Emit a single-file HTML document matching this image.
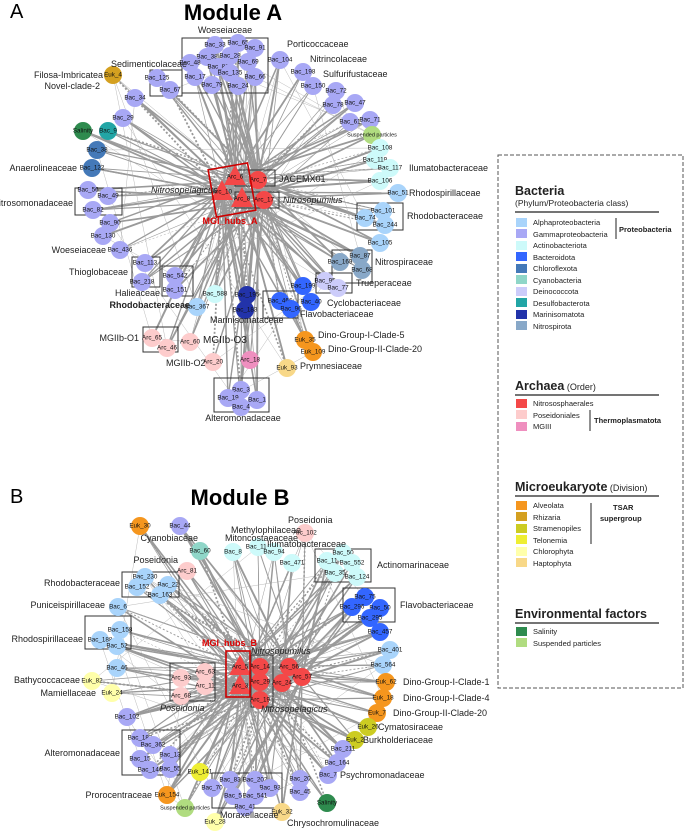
<!DOCTYPE html>
<html><head><meta charset="utf-8"><style>
body{margin:0;background:#fff;width:685px;height:831px;overflow:hidden}
svg{font-family:"Liberation Sans",sans-serif}
.n text{font-size:6.3px;text-anchor:middle;dominant-baseline:middle;fill:#111}
.l{font-size:9px;fill:#222}
.r{text-anchor:end}
.bx{fill:none;stroke:#333;stroke-width:1}
.a{fill:#a9d4fb}.g{fill:#a8a8f5}.ac{fill:#cdfafa}.bd{fill:#3366ff}.cf{fill:#4479b8}.cy{fill:#8fd6c8}.de{fill:#ccccfa}.ds{fill:#22a5a5}.ma{fill:#2233aa}.ni{fill:#88a8c8}.ns{fill:#f44848}.po{fill:#fdcccc}.m3{fill:#ef8fbf}.al{fill:#f5961e}.rh{fill:#d4a020}.st{fill:#cccc22}.te{fill:#eeee33}.ch{fill:#ffffaa}.ha{fill:#f8d888}.sa{fill:#2e8b4e}.sp{fill:#b0dc80}
.lg text{font-size:7.5px;fill:#222}
.lg text.hd{font-size:12.5px;font-weight:bold}
.lg text.sub{font-size:8.5px;font-weight:normal}
.lg tspan.sm{font-size:9px;font-weight:normal}
</style></head><body>
<svg id="s" width="685" height="831" viewBox="0 0 685 831">
<text x="10" y="18" font-size="20">A</text>
<text x="233" y="20" font-size="22" font-weight="bold" text-anchor="middle">Module A</text>
<text x="10" y="503" font-size="20">B</text>
<text x="240" y="505" font-size="22" font-weight="bold" text-anchor="middle">Module B</text>
<g id="eA"></g><g id="eB"></g>
<rect class="bx" x="182" y="38" width="86" height="55" stroke="#777"/>
<rect class="bx" x="150" y="70" width="32" height="26"/>
<rect class="bx" x="75" y="188" width="47" height="27"/>
<rect class="bx" x="132" y="257" width="28" height="30"/>
<rect class="bx" x="162" y="266" width="31" height="30"/>
<rect class="bx" x="357" y="203" width="46" height="27"/>
<rect class="bx" x="332" y="250" width="40" height="33"/>
<rect class="bx" x="316" y="273" width="36" height="20"/>
<rect class="bx" x="263" y="291" width="35" height="27"/>
<rect class="bx" x="143" y="327" width="35" height="25"/>
<rect class="bx" x="214" y="378" width="55" height="34"/>
<rect class="bx" x="235" y="170" width="40" height="16" stroke="#555"/>
<rect class="bx" x="235" y="192" width="44" height="16" stroke="#555"/>
<g id="A">
<g class="n" transform="translate(215,45)"><circle r="9" class="g"/><text>Bac_33</text></g>
<g class="n" transform="translate(238,43)"><circle r="9" class="g"/><text>Bac_65</text></g>
<g class="n" transform="translate(255,48)"><circle r="9" class="g"/><text>Bac_91</text></g>
<g class="n" transform="translate(207,57)"><circle r="9" class="g"/><text>Bac_38</text></g>
<g class="n" transform="translate(230,56)"><circle r="9" class="g"/><text>Bac_28</text></g>
<g class="n" transform="translate(248,62)"><circle r="9" class="g"/><text>Bac_69</text></g>
<g class="n" transform="translate(190,63)"><circle r="9" class="g"/><text>Bac_48</text></g>
<g class="n" transform="translate(218,67)"><circle r="9" class="g"/><text>Bac_81</text></g>
<g class="n" transform="translate(230,73)"><circle r="9" class="g"/><text>Bac_135</text></g>
<g class="n" transform="translate(255,77)"><circle r="9" class="g"/><text>Bac_66</text></g>
<g class="n" transform="translate(195,77)"><circle r="9" class="g"/><text>Bac_17</text></g>
<g class="n" transform="translate(212,85)"><circle r="9" class="g"/><text>Bac_79</text></g>
<g class="n" transform="translate(238,86)"><circle r="9" class="g"/><text>Bac_24</text></g>
<g class="n" transform="translate(113,75)"><circle r="9" class="rh"/><text>Euk_4</text></g>
<g class="n" transform="translate(157,78)"><circle r="9" class="g"/><text>Bac_125</text></g>
<g class="n" transform="translate(170,90)"><circle r="9" class="g"/><text>Bac_67</text></g>
<g class="n" transform="translate(135,98)"><circle r="9" class="g"/><text>Bac_34</text></g>
<g class="n" transform="translate(123,118)"><circle r="9" class="g"/><text>Bac_29</text></g>
<g class="n" transform="translate(83,131)"><circle r="9" class="sa"/><text>Salinity</text></g>
<g class="n" transform="translate(108,131)"><circle r="9" class="ds"/><text>Bac_9</text></g>
<g class="n" transform="translate(97,150)"><circle r="9" class="cf"/><text>Bac_38</text></g>
<g class="n" transform="translate(92,168)"><circle r="9" class="cf"/><text>Bac_122</text></g>
<g class="n" transform="translate(88,190)"><circle r="9" class="g"/><text>Bac_56</text></g>
<g class="n" transform="translate(108,196)"><circle r="9" class="g"/><text>Bac_49</text></g>
<g class="n" transform="translate(93,210)"><circle r="9" class="g"/><text>Bac_82</text></g>
<g class="n" transform="translate(110,223)"><circle r="9" class="g"/><text>Bac_90</text></g>
<g class="n" transform="translate(103,236)"><circle r="9" class="g"/><text>Bac_130</text></g>
<g class="n" transform="translate(120,250)"><circle r="9" class="g"/><text>Bac_436</text></g>
<g class="n" transform="translate(145,263)"><circle r="9" class="g"/><text>Bac_113</text></g>
<g class="n" transform="translate(142,282)"><circle r="9" class="g"/><text>Bac_218</text></g>
<g class="n" transform="translate(175,276)"><circle r="9" class="g"/><text>Bac_542</text></g>
<g class="n" transform="translate(175,290)"><circle r="9" class="g"/><text>Bac_151</text></g>
<g class="n" transform="translate(280,60)"><circle r="9" class="g"/><text>Bac_104</text></g>
<g class="n" transform="translate(303,72)"><circle r="9" class="g"/><text>Bac_198</text></g>
<g class="n" transform="translate(313,86)"><circle r="9" class="g"/><text>Bac_150</text></g>
<g class="n" transform="translate(336,91)"><circle r="9" class="g"/><text>Bac_72</text></g>
<g class="n" transform="translate(333,105)"><circle r="9" class="g"/><text>Bac_78</text></g>
<g class="n" transform="translate(355,103)"><circle r="9" class="g"/><text>Bac_47</text></g>
<g class="n" transform="translate(350,122)"><circle r="9" class="g"/><text>Bac_61</text></g>
<g class="n" transform="translate(370,120)"><circle r="9" class="g"/><text>Bac_71</text></g>
<g class="n" transform="translate(372,135)"><circle r="9" class="sp"/><text style="font-size:5.5px">Suspended particles</text></g>
<g class="n" transform="translate(380,148)"><circle r="9" class="ac"/><text>Bac_108</text></g>
<g class="n" transform="translate(375,160)"><circle r="9" class="ac"/><text>Bac_119</text></g>
<g class="n" transform="translate(390,168)"><circle r="9" class="ac"/><text>Bac_117</text></g>
<g class="n" transform="translate(380,181)"><circle r="9" class="ac"/><text>Bac_106</text></g>
<g class="n" transform="translate(398,193)"><circle r="9" class="a"/><text>Bac_51</text></g>
<g class="n" transform="translate(383,211)"><circle r="9" class="a"/><text>Bac_101</text></g>
<g class="n" transform="translate(365,218)"><circle r="9" class="a"/><text>Bac_74</text></g>
<g class="n" transform="translate(385,225)"><circle r="9" class="a"/><text>Bac_244</text></g>
<g class="n" transform="translate(380,243)"><circle r="9" class="a"/><text>Bac_105</text></g>
<g class="n" transform="translate(360,256)"><circle r="9" class="ni"/><text>Bac_87</text></g>
<g class="n" transform="translate(340,262)"><circle r="9" class="ni"/><text>Bac_169</text></g>
<g class="n" transform="translate(362,270)"><circle r="9" class="ni"/><text>Bac_68</text></g>
<g class="n" transform="translate(325,281)"><circle r="9" class="de"/><text>Bac_95</text></g>
<g class="n" transform="translate(338,288)"><circle r="9" class="de"/><text>Bac_77</text></g>
<g class="n" transform="translate(303,286)"><circle r="9" class="bd"/><text>Bac_199</text></g>
<g class="n" transform="translate(311,302)"><circle r="9" class="bd"/><text>Bac_40</text></g>
<g class="n" transform="translate(280,301)"><circle r="9" class="bd"/><text>Bac_466</text></g>
<g class="n" transform="translate(291,309)"><circle r="9" class="bd"/><text>Bac_96</text></g>
<g class="n" transform="translate(247,295)"><circle r="9" class="ma"/><text>Bac_195</text></g>
<g class="n" transform="translate(245,310)"><circle r="9" class="ma"/><text>Bac_183</text></g>
<g class="n" transform="translate(215,294)"><circle r="9" class="ac"/><text>Bac_588</text></g>
<g class="n" transform="translate(197,307)"><circle r="9" class="a"/><text>Bac_367</text></g>
<g class="n" transform="translate(152,338)"><circle r="9" class="po"/><text>Arc_65</text></g>
<g class="n" transform="translate(167,348)"><circle r="9" class="po"/><text>Arc_46</text></g>
<g class="n" transform="translate(190,342)"><circle r="9" class="po"/><text>Arc_60</text></g>
<g class="n" transform="translate(213,362)"><circle r="9" class="po"/><text>Arc_20</text></g>
<g class="n" transform="translate(250,360)"><circle r="9" class="m3"/><text>Arc_18</text></g>
<g class="n" transform="translate(305,340)"><circle r="9" class="al"/><text>Euk_35</text></g>
<g class="n" transform="translate(313,352)"><circle r="9" class="al"/><text>Euk_109</text></g>
<g class="n" transform="translate(287,368)"><circle r="9" class="ha"/><text>Euk_93</text></g>
<g class="n" transform="translate(241,390)"><circle r="9" class="g"/><text>Bac_3</text></g>
<g class="n" transform="translate(228,398)"><circle r="9" class="g"/><text>Bac_19</text></g>
<g class="n" transform="translate(257,400)"><circle r="9" class="g"/><text>Bac_1</text></g>
<g class="n" transform="translate(241,407)"><circle r="9" class="g"/><text>Bac_4</text></g>
</g>
<g id="hA">
<g class="n h" transform="translate(258,180)"><circle r="9" class="ns"/><text>Arc_7</text></g>
<g class="n h" transform="translate(264,200)"><circle r="9" class="ns"/><text>Arc_17</text></g>
<g class="n h" transform="translate(235,177)"><polygon points="0,-12 11,8 -11,8" class="ns"/><text>Arc_6</text></g>
<g class="n h" transform="translate(222,192)"><polygon points="0,-12 11,8 -11,8" class="ns"/><text>Arc_10</text></g>
<g class="n h" transform="translate(242,199)"><polygon points="0,-12 11,8 -11,8" class="ns"/><text>Arc_8</text></g>
<rect x="212" y="166" width="40" height="48" fill="none" stroke="#c00" stroke-width="1.6" transform="rotate(-10 232 190)"/>
</g>
<g class="l">
<text x="225" y="33" text-anchor="middle">Woeseiaceae</text>
<text x="287" y="47">Porticoccaceae</text>
<text x="310" y="62">Nitrincolaceae</text>
<text x="323" y="77">Sulfurifustaceae</text>
<text x="111" y="67">Sedimenticolaceae</text>
<text class="r" x="103" y="78">Filosa-Imbricatea</text>
<text class="r" x="100" y="89">Novel-clade-2</text>
<text class="r" x="77" y="171">Anaerolineaceae</text>
<text class="r" x="73" y="206">Nitrosomonadaceae</text>
<text class="r" x="106" y="253">Woeseiaceae</text>
<text class="r" x="128" y="275">Thioglobaceae</text>
<text class="r" x="160" y="296">Halieaceae</text>
<text class="r" x="190" y="308" font-weight="bold">Rhodobacteraceae</text>
<text x="409" y="171">Ilumatobacteraceae</text>
<text x="409" y="196">Rhodospirillaceae</text>
<text x="407" y="219">Rhodobacteraceae</text>
<text x="375" y="265">Nitrospiraceae</text>
<text x="356" y="286">Trueperaceae</text>
<text x="327" y="306">Cyclobacteriaceae</text>
<text x="300" y="317">Flavobacteriaceae</text>
<text x="210" y="323">Marinisomataceae</text>
<text x="279" y="182">JACEMX01</text>
<text x="283" y="203" font-style="italic">Nitrosopumilus</text>
<text x="151" y="193" font-style="italic">Nitrosopelagicus</text>
<text x="230" y="224" text-anchor="middle" font-weight="bold" fill="#d00">MGI_hubs_A</text>
<text class="r" x="139" y="341">MGIIb-O1</text>
<text x="203" y="343" font-size="10">MGIIb-O3</text>
<text x="166" y="366">MGIIb-O2</text>
<text x="318" y="338">Dino-Group-I-Clade-5</text>
<text x="328" y="352">Dino-Group-II-Clade-20</text>
<text x="300" y="369">Prymnesiaceae</text>
<text x="243" y="421" text-anchor="middle">Alteromonadaceae</text>
</g>
<rect class="bx" x="315" y="549" width="56" height="33"/>
<rect class="bx" x="122" y="572" width="57" height="25"/>
<rect class="bx" x="85" y="616" width="46" height="33"/>
<rect class="bx" x="343" y="588" width="52" height="34"/>
<rect class="bx" x="170" y="663" width="45" height="38"/>
<rect class="bx" x="122" y="730" width="58" height="45"/>
<rect class="bx" x="212" y="773" width="70" height="35"/>
<rect class="bx" x="251" y="655" width="22" height="52" stroke="#555"/>
<g id="B">
<g class="n" transform="translate(140,526)"><circle r="9" class="al"/><text>Euk_30</text></g>
<g class="n" transform="translate(180,526)"><circle r="9" class="g"/><text>Bac_44</text></g>
<g class="n" transform="translate(305,533)"><circle r="9" class="po"/><text>Arc_102</text></g>
<g class="n" transform="translate(200,551)"><circle r="9" class="cy"/><text>Bac_60</text></g>
<g class="n" transform="translate(233,552)"><circle r="9" class="ac"/><text>Bac_8</text></g>
<g class="n" transform="translate(258,547)"><circle r="9" class="ac"/><text>Bac_114</text></g>
<g class="n" transform="translate(274,552)"><circle r="9" class="ac"/><text>Bac_94</text></g>
<g class="n" transform="translate(292,563)"><circle r="9" class="ac"/><text>Bac_471</text></g>
<g class="n" transform="translate(343,553)"><circle r="9" class="ac"/><text>Bac_50</text></g>
<g class="n" transform="translate(327,561)"><circle r="9" class="ac"/><text>Bac_11</text></g>
<g class="n" transform="translate(352,563)"><circle r="9" class="ac"/><text>Bac_552</text></g>
<g class="n" transform="translate(335,573)"><circle r="9" class="ac"/><text>Bac_35</text></g>
<g class="n" transform="translate(357,577)"><circle r="9" class="ac"/><text>Bac_124</text></g>
<g class="n" transform="translate(187,571)"><circle r="9" class="po"/><text>Arc_81</text></g>
<g class="n" transform="translate(145,577)"><circle r="9" class="a"/><text>Bac_230</text></g>
<g class="n" transform="translate(137,587)"><circle r="9" class="a"/><text>Bac_152</text></g>
<g class="n" transform="translate(168,585)"><circle r="9" class="a"/><text>Bac_22</text></g>
<g class="n" transform="translate(160,595)"><circle r="9" class="a"/><text>Bac_163</text></g>
<g class="n" transform="translate(118,607)"><circle r="9" class="a"/><text>Bac_6</text></g>
<g class="n" transform="translate(120,630)"><circle r="9" class="a"/><text>Bac_158</text></g>
<g class="n" transform="translate(100,640)"><circle r="9" class="a"/><text>Bac_188</text></g>
<g class="n" transform="translate(117,646)"><circle r="9" class="a"/><text>Bac_52</text></g>
<g class="n" transform="translate(117,668)"><circle r="9" class="a"/><text>Bac_46</text></g>
<g class="n" transform="translate(92,681)"><circle r="9" class="ch"/><text>Euk_82</text></g>
<g class="n" transform="translate(112,693)"><circle r="9" class="ch"/><text>Euk_24</text></g>
<g class="n" transform="translate(127,717)"><circle r="9" class="g"/><text>Bac_102</text></g>
<g class="n" transform="translate(365,597)"><circle r="9" class="bd"/><text>Bac_75</text></g>
<g class="n" transform="translate(352,607)"><circle r="9" class="bd"/><text>Bac_296</text></g>
<g class="n" transform="translate(380,608)"><circle r="9" class="bd"/><text>Bac_50</text></g>
<g class="n" transform="translate(370,618)"><circle r="9" class="bd"/><text>Bac_295</text></g>
<g class="n" transform="translate(380,632)"><circle r="9" class="bd"/><text>Bac_457</text></g>
<g class="n" transform="translate(390,650)"><circle r="9" class="a"/><text>Bac_401</text></g>
<g class="n" transform="translate(383,665)"><circle r="9" class="a"/><text>Bac_564</text></g>
<g class="n" transform="translate(386,682)"><circle r="9" class="al"/><text>Euk_62</text></g>
<g class="n" transform="translate(383,698)"><circle r="9" class="al"/><text>Euk_18</text></g>
<g class="n" transform="translate(377,713)"><circle r="9" class="al"/><text>Euk_7</text></g>
<g class="n" transform="translate(368,727)"><circle r="9" class="st"/><text>Euk_26</text></g>
<g class="n" transform="translate(355,740)"><circle r="9" class="st"/><text>Euk_2</text></g>
<g class="n" transform="translate(343,749)"><circle r="9" class="g"/><text>Bac_211</text></g>
<g class="n" transform="translate(337,763)"><circle r="9" class="g"/><text>Bac_164</text></g>
<g class="n" transform="translate(328,775)"><circle r="9" class="g"/><text>Bac_7</text></g>
<g class="n" transform="translate(300,779)"><circle r="9" class="g"/><text>Bac_20</text></g>
<g class="n" transform="translate(300,792)"><circle r="9" class="g"/><text>Bac_45</text></g>
<g class="n" transform="translate(327,803)"><circle r="9" class="sa"/><text>Salinity</text></g>
<g class="n" transform="translate(282,812)"><circle r="9" class="ha"/><text>Euk_32</text></g>
<g class="n" transform="translate(230,780)"><circle r="9" class="g"/><text>Bac_83</text></g>
<g class="n" transform="translate(255,780)"><circle r="9" class="g"/><text>Bac_202</text></g>
<g class="n" transform="translate(212,788)"><circle r="9" class="g"/><text>Bac_70</text></g>
<g class="n" transform="translate(270,788)"><circle r="9" class="g"/><text>Bac_93</text></g>
<g class="n" transform="translate(233,796)"><circle r="9" class="g"/><text>Bac_5</text></g>
<g class="n" transform="translate(255,796)"><circle r="9" class="g"/><text>Bac_541</text></g>
<g class="n" transform="translate(245,807)"><circle r="9" class="g"/><text>Bac_41</text></g>
<g class="n" transform="translate(215,822)"><circle r="9" class="ch"/><text>Euk_28</text></g>
<g class="n" transform="translate(185,808)"><circle r="9" class="sp"/><text style="font-size:5.5px">Suspended particles</text></g>
<g class="n" transform="translate(167,795)"><circle r="9" class="al"/><text>Euk_154</text></g>
<g class="n" transform="translate(200,772)"><circle r="9" class="te"/><text>Euk_141</text></g>
<g class="n" transform="translate(140,738)"><circle r="9" class="g"/><text>Bac_182</text></g>
<g class="n" transform="translate(153,745)"><circle r="9" class="g"/><text>Bac_362</text></g>
<g class="n" transform="translate(170,755)"><circle r="9" class="g"/><text>Bac_13</text></g>
<g class="n" transform="translate(140,759)"><circle r="9" class="g"/><text>Bac_15</text></g>
<g class="n" transform="translate(150,770)"><circle r="9" class="g"/><text>Bac_146</text></g>
<g class="n" transform="translate(170,769)"><circle r="9" class="g"/><text>Bac_55</text></g>
<g class="n" transform="translate(205,672)"><circle r="9" class="po"/><text>Arc_63</text></g>
<g class="n" transform="translate(181,678)"><circle r="9" class="po"/><text>Arc_93</text></g>
<g class="n" transform="translate(205,686)"><circle r="9" class="po"/><text>Arc_11</text></g>
<g class="n" transform="translate(181,696)"><circle r="9" class="po"/><text>Arc_68</text></g>
</g>
<g id="hB">
<g class="n h" transform="translate(260,667)"><circle r="9" class="ns"/><text>Arc_14</text></g>
<g class="n h" transform="translate(289,667)"><circle r="9" class="ns"/><text>Arc_56</text></g>
<g class="n h" transform="translate(302,677)"><circle r="9" class="ns"/><text>Arc_57</text></g>
<g class="n h" transform="translate(260,682)"><circle r="9" class="ns"/><text>Arc_29</text></g>
<g class="n h" transform="translate(282,683)"><circle r="9" class="ns"/><text>Arc_24</text></g>
<g class="n h" transform="translate(260,700)"><circle r="9" class="ns"/><text>Arc_19</text></g>
<g class="n h" transform="translate(240,667)"><polygon points="0,-12 11,8 -11,8" class="ns"/><text>Arc_5</text></g>
<g class="n h" transform="translate(240,686)"><polygon points="0,-12 11,8 -11,8" class="ns"/><text>Arc_3</text></g>
<rect x="226" y="651" width="24" height="46" fill="none" stroke="#c00" stroke-width="1.6"/>
</g>
<g class="l">
<text x="231" y="533">Methylophilaceae</text>
<text x="225" y="541">Mitoncostaeaceae</text>
<text x="288" y="523">Poseidonia</text>
<text class="r" x="198" y="541">Cyanobiaceae</text>
<text x="267" y="547">Ilumatobacteraceae</text>
<text class="r" x="178" y="563">Poseidonia</text>
<text class="r" x="120" y="586">Rhodobacteraceae</text>
<text class="r" x="105" y="608">Puniceispirillaceae</text>
<text class="r" x="83" y="642">Rhodospirillaceae</text>
<text class="r" x="80" y="683">Bathycoccaceae</text>
<text class="r" x="96" y="696">Mamiellaceae</text>
<text class="r" x="120" y="756">Alteromonadaceae</text>
<text class="r" x="152" y="798">Prorocentraceae</text>
<text x="377" y="568">Actinomarinaceae</text>
<text x="400" y="608">Flavobacteriaceae</text>
<text x="403" y="685">Dino-Group-I-Clade-1</text>
<text x="403" y="701">Dino-Group-I-Clade-4</text>
<text x="393" y="716">Dino-Group-II-Clade-20</text>
<text x="378" y="730">Cymatosiraceae</text>
<text x="363" y="743">Burkholderiaceae</text>
<text x="340" y="778">Psychromonadaceae</text>
<text x="220" y="818">Moraxellaceae</text>
<text x="287" y="826">Chrysochromulinaceae</text>
<text x="202" y="646" font-weight="bold" fill="#d00">MGI_hubs_B</text>
<text x="251" y="654" font-style="italic">Nitrosopumilus</text>
<text x="261" y="712" font-style="italic">Nitrosopelagicus</text>
<text x="160" y="711" font-style="italic">Poseidonia</text>
</g>
<rect x="498" y="155" width="185" height="533" fill="none" stroke="#555" stroke-dasharray="4,2"/>
<g class="lg">
<text class="hd" x="515" y="195">Bacteria</text>
<text class="sub" x="515" y="206">(Phylum/Proteobacteria class)</text>
<line x1="515" y1="212" x2="659" y2="212" stroke="#222" stroke-width="1.3"/>
<rect x="516" y="218" width="11" height="9" class="a"/><text x="533" y="225">Alphaproteobacteria</text>
<rect x="516" y="229" width="11" height="9" class="g"/><text x="533" y="237">Gammaproteobacteria</text>
<rect x="516" y="241" width="11" height="9" class="ac"/><text x="533" y="248">Actinobacteriota</text>
<rect x="516" y="252" width="11" height="9" class="bd"/><text x="533" y="260">Bacteroidota</text>
<rect x="516" y="264" width="11" height="9" class="cf"/><text x="533" y="271">Chloroflexota</text>
<rect x="516" y="275" width="11" height="9" class="cy"/><text x="533" y="283">Cyanobacteria</text>
<rect x="516" y="287" width="11" height="9" class="de"/><text x="533" y="294">Deinococcota</text>
<rect x="516" y="298" width="11" height="9" class="ds"/><text x="533" y="306">Desulfobacterota</text>
<rect x="516" y="310" width="11" height="9" class="ma"/><text x="533" y="317">Marinisomatota</text>
<rect x="516" y="321" width="11" height="9" class="ni"/><text x="533" y="329">Nitrospirota</text>
<line x1="616" y1="218" x2="616" y2="239" stroke="#222"/>
<text x="619" y="232" font-weight="bold">Proteobacteria</text>
<text class="hd" x="515" y="390">Archaea<tspan class="sm"> (Order)</tspan></text>
<line x1="515" y1="395" x2="659" y2="395" stroke="#222" stroke-width="1.3"/>
<rect x="516" y="399" width="11" height="9" class="ns"/><text x="533" y="406">Nitrososphaerales</text>
<rect x="516" y="410" width="11" height="9" class="po"/><text x="533" y="418">Poseidoniales</text>
<rect x="516" y="422" width="11" height="9" class="m3"/><text x="533" y="429">MGIII</text>
<line x1="590" y1="410" x2="590" y2="431" stroke="#222"/>
<text x="594" y="423" font-weight="bold">Thermoplasmatota</text>
<text class="hd" x="515" y="491">Microeukaryote<tspan class="sm"> (Division)</tspan></text>
<line x1="515" y1="496" x2="659" y2="496" stroke="#222" stroke-width="1.3"/>
<rect x="516" y="501" width="11" height="9" class="al"/><text x="533" y="508">Alveolata</text>
<rect x="516" y="512" width="11" height="9" class="rh"/><text x="533" y="520">Rhizaria</text>
<rect x="516" y="524" width="11" height="9" class="st"/><text x="533" y="531">Stramenopiles</text>
<rect x="516" y="535" width="11" height="9" class="te"/><text x="533" y="543">Telonemia</text>
<rect x="516" y="547" width="11" height="9" class="ch"/><text x="533" y="554">Chlorophyta</text>
<rect x="516" y="558" width="11" height="9" class="ha"/><text x="533" y="566">Haptophyta</text>
<line x1="591" y1="503" x2="591" y2="544" stroke="#222"/>
<text x="613" y="510" font-weight="bold">TSAR</text>
<text x="600" y="521" font-weight="bold">supergroup</text>
<text class="hd" x="515" y="618">Environmental factors</text>
<line x1="515" y1="623" x2="659" y2="623" stroke="#222" stroke-width="1.3"/>
<rect x="516" y="627" width="11" height="9" class="sa"/><text x="533" y="634">Salinity</text>
<rect x="516" y="638" width="11" height="9" class="sp"/><text x="533" y="646">Suspended particles</text>
</g>
</svg>
<script>
(function(){
var NS="http://www.w3.org/2000/svg";
function pos(g){var m=g.getAttribute("transform").match(/([\d.]+),([\d.]+)/);return [+m[1],+m[2]];}
var seed=7;function rnd(){seed=(seed*16807)%2147483647;return seed/2147483647;}
function draw(nid,hid,eid,k){
 var nodes=[].slice.call(document.querySelectorAll("#"+nid+" .n")).map(pos);
 var hubs=[].slice.call(document.querySelectorAll("#"+hid+" .n")).map(pos);
 var e=document.getElementById(eid);
 nodes.forEach(function(p){
  for(var i=0;i<k;i++){
   var h=hubs[Math.floor(rnd()*hubs.length)];
   var l=document.createElementNS(NS,"line");
   l.setAttribute("x1",h[0]);l.setAttribute("y1",h[1]);
   l.setAttribute("x2",p[0]);l.setAttribute("y2",p[1]);
   l.setAttribute("stroke","#9a9a9a");
   l.setAttribute("stroke-width",(0.4+rnd()*1.6).toFixed(2));
   if(rnd()<0.15)l.setAttribute("stroke-dasharray","2,2");
   e.appendChild(l);
  }
 });
 for(var j=0;j<nodes.length*0.4;j++){
  var a=nodes[Math.floor(rnd()*nodes.length)],b=nodes[Math.floor(rnd()*nodes.length)];
  var l=document.createElementNS(NS,"line");
  l.setAttribute("x1",a[0]);l.setAttribute("y1",a[1]);l.setAttribute("x2",b[0]);l.setAttribute("y2",b[1]);
  l.setAttribute("stroke","#aaa");l.setAttribute("stroke-width","0.4");
  e.appendChild(l);
 }
}
draw("A","hA","eA",3);
draw("B","hB","eB",4);
})();
</script>
</body></html>
